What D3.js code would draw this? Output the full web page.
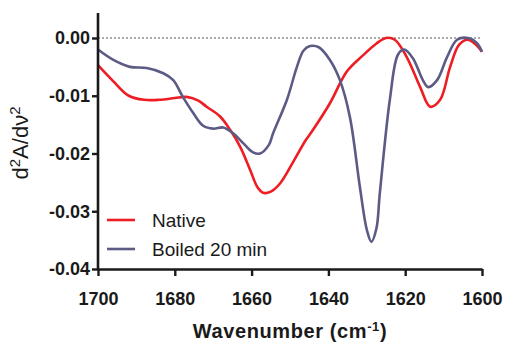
<!DOCTYPE html>
<html>
<head>
<meta charset="utf-8">
<script src="https://cdn.jsdelivr.net/npm/d3@7"></script>
<style>
  body { margin: 0; background: #fff; }
  svg { display: block; font-family: "Liberation Sans", Arial, sans-serif; }
</style>
</head>
<body>
<div id="chart"></div>
<script>
// Native spectrum (second derivative)
var nativeWave = [1700, 1696, 1692, 1688, 1684, 1680, 1677, 1674, 1671.7, 1668.2, 1665.6, 1663, 1660.4, 1658.5, 1657, 1655, 1652.6, 1649.2, 1646, 1644, 1639.6, 1635.2, 1631, 1627.4, 1625, 1622.7, 1619.6, 1616.1, 1613.5, 1610.9, 1608.3, 1606, 1603.8, 1601.5, 1600];
var nativeVals = [-0.0047, -0.0075, -0.0100, -0.0107, -0.0107, -0.0104, -0.0102, -0.0108, -0.0119, -0.0136, -0.0159, -0.0188, -0.0228, -0.0258, -0.0268, -0.0266, -0.0252, -0.0215, -0.0178, -0.0159, -0.0113, -0.0058, -0.0030, -0.0009, 0.0000, -0.0003, -0.0033, -0.0085, -0.0119, -0.0107, -0.0050, -0.0012, -0.0003, -0.0012, -0.0024];

// Boiled 20 min spectrum
var boiledWave = [1700, 1696, 1691.7, 1687.3, 1683, 1680.4, 1677.9, 1675.2, 1672.6, 1670, 1667.4, 1664.8, 1662.2, 1659.6, 1657.8, 1655.5, 1654.4, 1650.8, 1648.2, 1646.5, 1644.8, 1642.5, 1639.6, 1637, 1634.4, 1631.8, 1630, 1628.8, 1627.5, 1626.6, 1624, 1621.9, 1620.3, 1618, 1615.4, 1614, 1611.7, 1609.1, 1606.5, 1603.6, 1601.3, 1600];
var boiledVals = [-0.0020, -0.0038, -0.0050, -0.0052, -0.0061, -0.0073, -0.0102, -0.0130, -0.0152, -0.0157, -0.0155, -0.0165, -0.0182, -0.0198, -0.0200, -0.0185, -0.0165, -0.0107, -0.0050, -0.0022, -0.0014, -0.0016, -0.0038, -0.0073, -0.0137, -0.0258, -0.0332, -0.0353, -0.0330, -0.0268, -0.0107, -0.0029, -0.0020, -0.0035, -0.0073, -0.0085, -0.0073, -0.0033, -0.0003, 0.0000, -0.0009, -0.0024];

var xTicks = [1700, 1680, 1660, 1640, 1620, 1600];
var yTicks = [0, -0.01, -0.02, -0.03, -0.04];
var seriesNames = ["Native", "Boiled 20 min"];
var seriesColors = ["#ee1d23", "#5c5b85"];

var w = 506, h = 344;
var svg = d3.select("#chart").append("svg")
    .attr("width", w)
    .attr("height", h);

var x = d3.scaleLinear().domain([1700, 1600]).range([98, 482]);
var y = d3.scaleLinear().domain([-0.04, 0]).range([269, 38]);
var yTop = 13;

// zero reference line
svg.append("line")
    .attr("x1", x(1700)).attr("x2", x(1600))
    .attr("y1", y(0)).attr("y2", y(0))
    .attr("stroke", "#555")
    .attr("stroke-width", 1)
    .attr("stroke-dasharray", "2,2");

var line = d3.line()
    .x(function(d) { return x(d[0]); })
    .y(function(d) { return y(d[1]); })
    .curve(d3.curveCatmullRom.alpha(0.5));

var series = [
    d3.zip(nativeWave, nativeVals),
    d3.zip(boiledWave, boiledVals)
];

svg.selectAll("path.series")
    .data(series)
    .enter()
    .append("path")
    .attr("class", "series")
    .attr("d", line)
    .attr("fill", "none")
    .attr("stroke", function(d, i) { return seriesColors[i]; })
    .attr("stroke-width", 2.6)
    .attr("stroke-linejoin", "round");

// axes
var xAxis = svg.append("g")
    .attr("transform", "translate(0," + y(-0.04) + ")")
    .call(d3.axisBottom(x).tickValues(xTicks).tickSize(7).tickPadding(16).tickSizeOuter(0).tickFormat(d3.format("d")));

var yAxis = svg.append("g")
    .attr("transform", "translate(" + x(1700) + ",0)")
    .call(d3.axisLeft(y).tickValues(yTicks).tickSize(6).tickPadding(2).tickSizeOuter(0));

// extend y axis above zero
yAxis.select(".domain").attr("d", "M0," + (y(-0.04) + 1) + "V" + yTop);

[xAxis, yAxis].forEach(function(a) {
    a.select(".domain").attr("stroke", "#1a1a1a").attr("stroke-width", 2.6);
    a.selectAll(".tick line").attr("stroke", "#1a1a1a").attr("stroke-width", 2.4);
    a.selectAll(".tick text")
        .attr("fill", "#1a1a1a")
        .style("font-family", "'Liberation Sans', Arial, sans-serif")
        .style("font-size", "18px")
        .style("font-weight", "bold");
});
yAxis.selectAll(".tick text").text(function(d) { return d3.format(".2f")(d).replace("−", "-"); });

// axis titles
var yt = svg.append("text")
    .attr("transform", "translate(28,143) rotate(-90)")
    .attr("text-anchor", "middle")
    .attr("fill", "#1a1a1a")
    .style("font-size", "22px");
yt.append("tspan").text("d");
yt.append("tspan").attr("baseline-shift", "super").style("font-size", "15px").text("2");
yt.append("tspan").text("A/dν");
yt.append("tspan").attr("baseline-shift", "super").style("font-size", "15px").text("2");

var xt = svg.append("text")
    .attr("x", 290)
    .attr("y", 338)
    .attr("text-anchor", "middle")
    .attr("fill", "#1a1a1a")
    .style("font-size", "20px")
    .style("font-weight", "bold")
    .style("letter-spacing", "0.6px");
xt.append("tspan").text("Wavenumber (cm");
xt.append("tspan").attr("baseline-shift", "super").style("font-size", "13px").text("-1");
xt.append("tspan").text(")");

// legend
var legend = svg.selectAll("g.legend")
    .data(seriesNames)
    .enter()
    .append("g")
    .attr("class", "legend")
    .attr("transform", function(d, i) { return "translate(107," + (220 + i * 29) + ")"; });

legend.append("line")
    .attr("x1", 0).attr("x2", 28)
    .attr("stroke", function(d, i) { return seriesColors[i]; })
    .attr("stroke-width", 2.6);

legend.append("text")
    .attr("x", 45)
    .attr("y", 7)
    .attr("fill", "#1a1a1a")
    .style("font-size", "19px")
    .text(function(d) { return d; });
</script>
</body>
</html>
